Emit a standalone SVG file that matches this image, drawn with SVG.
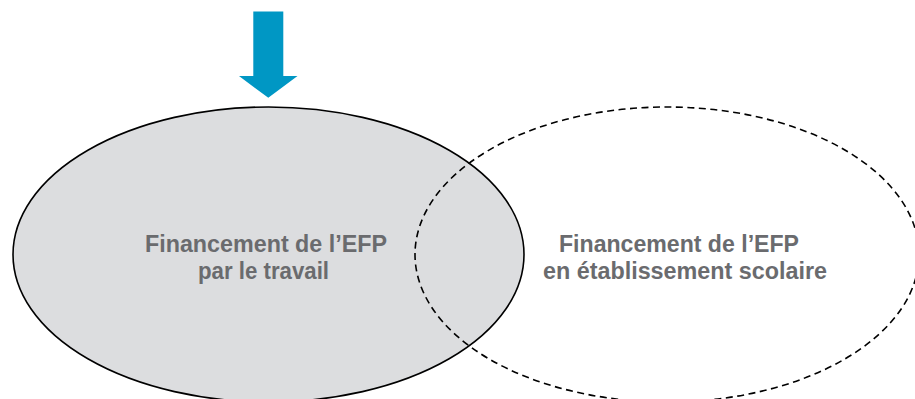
<svg xmlns="http://www.w3.org/2000/svg" width="915" height="399" viewBox="0 0 915 399">
  <style>
    .lbl { font-family: "Liberation Sans", Arial, sans-serif; font-weight: bold; font-size: 23px; fill: #6a6b6e; }
    .solid { fill: #dcdddf; stroke: #000; stroke-width: 1.6; }
    .dashed { fill: none; stroke: #000; stroke-width: 1.6; stroke-dasharray: 7 4.5; }
  </style>
  <rect width="915" height="399" fill="#fff"/>
  <g id="work-based">
    <ellipse class="solid" cx="268.5" cy="254.5" rx="255.5" ry="147.5"/>
  </g>
  <g id="school-based">
    <ellipse class="dashed" cx="667" cy="254.5" rx="252" ry="147.5"/>
  </g>
  <g id="labels">
    <text class="lbl" x="145" y="252" textLength="242" lengthAdjust="spacingAndGlyphs">Financement de l’EFP</text>
    <text class="lbl" x="198" y="279" textLength="131" lengthAdjust="spacingAndGlyphs">par le travail</text>
    <text class="lbl" x="559" y="252" textLength="240" lengthAdjust="spacingAndGlyphs">Financement de l’EFP</text>
    <text class="lbl" x="543" y="279" textLength="284" lengthAdjust="spacingAndGlyphs">en établissement scolaire</text>
  </g>
  <g id="connectors">
    <polygon fill="#0097c4" points="253.3,11.5 283.3,11.5 283.3,76 297.5,76 268.3,97.8 239,76 253.3,76"/>
  </g>
</svg>
